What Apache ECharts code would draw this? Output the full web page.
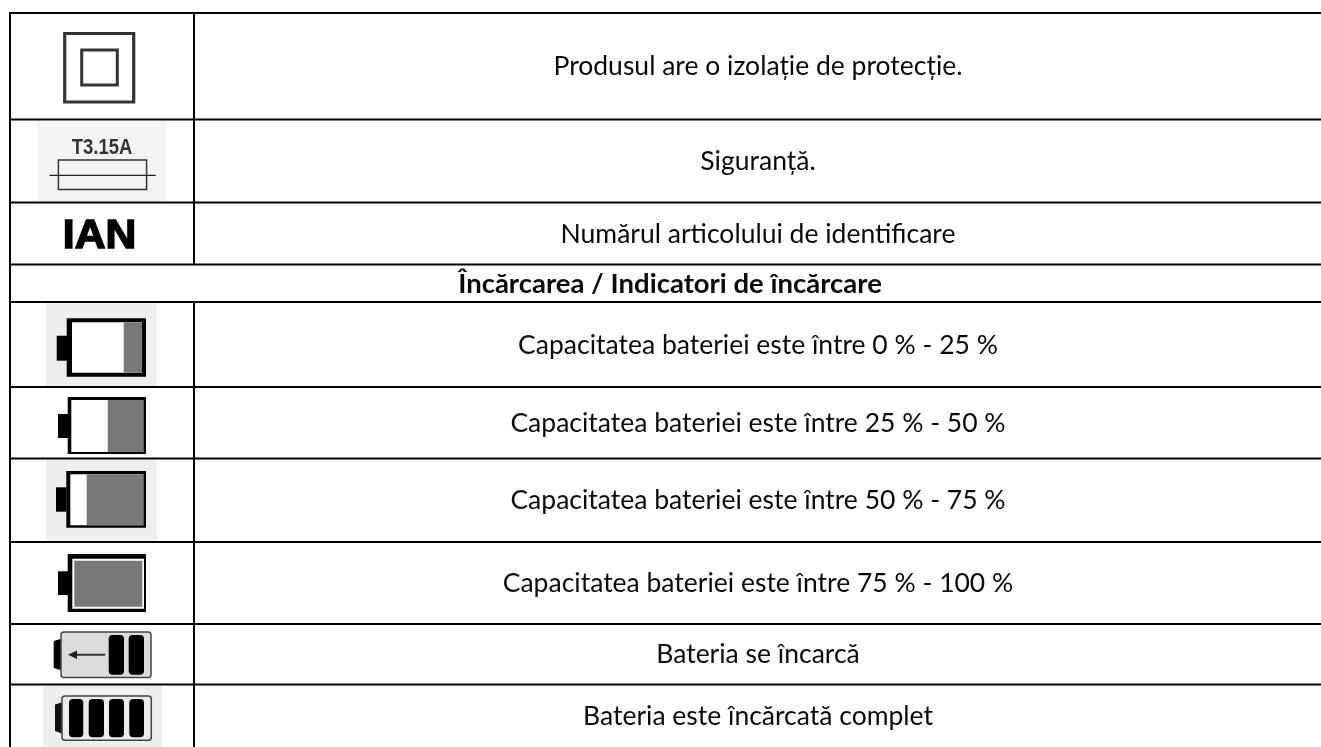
<!DOCTYPE html>
<html><head><meta charset="utf-8">
<style>html,body{margin:0;padding:0;background:#fff}#c{width:1321px;height:747px}</style>
<script src="https://cdn.jsdelivr.net/npm/echarts@6/dist/echarts.min.js"></script>
</head><body><div id="c"></div>
<script>
const rowLabels = [
  "Produsul are o izolație de protecție.",
  "Siguranță.",
  "Numărul articolului de identificare",
  "Încărcarea / Indicatori de încărcare",
  "Capacitatea bateriei este între 0 % - 25 %",
  "Capacitatea bateriei este între 25 % - 50 %",
  "Capacitatea bateriei este între 50 % - 75 %",
  "Capacitatea bateriei este între 75 % - 100 %",
  "Bateria se încarcă",
  "Bateria este încărcată complet"
];
const headingRow = 3;
const rowEdges = [13, 119.5, 202.5, 264.5, 302, 387, 458.5, 542, 624, 684.5, 747];
const fontFamily = 'Lato';
const BLACK = '#000', GRAY = '#787878', LIGHT = '#eeeeee';

const rect = (x0, y0, x1, y1, fill, r) => ({
  type: 'rect', silent: true,
  shape: {x: x0, y: y0, width: x1 - x0, height: y1 - y0, r: r || 0},
  style: {fill}
});
const frame = (x0, y0, x1, y1, stroke, lineWidth, fill, r) => ({
  type: 'rect', silent: true,
  shape: {x: x0, y: y0, width: x1 - x0, height: y1 - y0, r: r || 0},
  style: {fill: fill || 'none', stroke, lineWidth}
});
const seg = (x1, y1, x2, y2, stroke, lineWidth) => ({
  type: 'line', silent: true,
  shape: {x1, y1, x2, y2},
  style: {stroke, lineWidth}
});
const poly = (points, fill) => ({type: 'polygon', silent: true, shape: {points}, style: {fill}});
const txt = (x, y, text, font, fill, extra, scaleX) => ({
  type: 'text', silent: true,
  x, y, scaleX: scaleX || 1,
  style: Object.assign({x: 0, y: 0, text, font, fill, textAlign: 'center', textVerticalAlign: 'middle'}, extra || {})
});

const gridLines = [];
rowEdges.slice(0, -1).forEach((y) => {
  gridLines.push(rect(10, y - 1, 1321, y + 1, BLACK));
});
gridLines.push(rect(9, 12, 11, 747, BLACK));
gridLines.push(rect(193, 13, 195, 264, BLACK));
gridLines.push(rect(193, 302, 195, 747, BLACK));

const icons = [
  // double insulation
  frame(64.7, 33.5, 133.7, 102, '#333', 3.2),
  frame(81.7, 50, 117.3, 85, '#333', 3),
  // fuse
  rect(38, 121, 166, 201, '#f3f3f3'),
  txt(102, 147.5, 'T3.15A', 'bold 22px "Liberation Sans"', '#333', null, 0.84),
  frame(58.4, 160, 146.6, 189.5, '#333', 1.5),
  seg(49.5, 175.3, 155.7, 175.3, '#222', 1.2),
  // IAN
  txt(99.5, 236.5, 'IAN', 'bold 41px "Liberation Sans"', BLACK, {stroke: BLACK, lineWidth: 1.5}, 1.04),
  // battery 0-25
  rect(46, 303, 156.7, 385.7, LIGHT),
  rect(66.7, 318.3, 146, 376.7, BLACK),
  rect(56.7, 335.7, 67, 360.7, BLACK),
  rect(72, 322.3, 142, 372.7, '#fff'),
  rect(123.7, 322.3, 142, 372.7, GRAY),
  // battery 25-50
  rect(67.7, 397, 146, 454, BLACK),
  rect(58, 414, 68, 438, BLACK),
  rect(71.3, 400, 143.3, 452, '#fff'),
  rect(107.7, 400, 143.3, 452, GRAY),
  // battery 50-75
  rect(46, 460, 156.7, 540.7, LIGHT),
  rect(66.3, 471, 146, 527.7, BLACK),
  rect(56, 487.3, 66.5, 511.7, BLACK),
  rect(70.3, 474.3, 143.3, 525.3, '#fff'),
  rect(86.7, 474.3, 143.3, 525.3, GRAY),
  // battery 75-100
  rect(67.7, 554, 146, 612, BLACK),
  rect(58, 571.3, 68, 595, BLACK),
  rect(72.3, 558.7, 144, 608.7, '#fff'),
  rect(74.3, 560.7, 142.3, 606.7, GRAY),
  // charging
  frame(61, 632, 151, 677.5, '#444', 1.5, '#dcdcdc', 3),
  poly([[60.5, 639], [53.7, 641], [53.7, 668], [60.5, 670]], BLACK),
  seg(71, 654.7, 105.3, 654.7, '#333', 2),
  poly([[68, 654.7], [77, 650.5], [77, 659]], '#222'),
  rect(108.7, 635, 124, 674.7, BLACK, 4),
  rect(128.7, 635, 144, 674.7, BLACK, 4),
  // charged
  rect(43, 686, 162, 747, LIGHT),
  frame(62, 696, 151.3, 740.3, '#444', 1.5, '#ececec', 3),
  poly([[61.5, 702.5], [55, 704.5], [55, 731], [61.5, 733.5]], '#111'),
  rect(69, 699, 83.3, 737.3, BLACK, 4),
  rect(88.7, 699, 104, 737.3, BLACK, 4),
  rect(109, 699, 124, 737.3, BLACK, 4),
  rect(129.3, 699, 144, 737.3, BLACK, 4)
];

const chart = echarts.init(document.getElementById('c'), null, {renderer: 'canvas'});
chart.setOption({
  animation: false,
  backgroundColor: '#fff',
  tooltip: {show: false},
  graphic: {elements: [{type: 'group', silent: true, z: 1, children: gridLines.concat(icons)}]},
  series: [{
    type: 'custom',
    coordinateSystem: 'none',
    silent: true,
    z: 5,
    data: rowLabels.map((_, i) => [i]),
    renderItem: (params) => {
      const i = params.dataIndex;
      const y = (rowEdges[i] + rowEdges[i + 1]) / 2 + 0.5;
      const isHead = i === headingRow;
      return txt(isHead ? 670 : 758, y, rowLabels[i],
        (isHead ? 'bold 27.5px ' : '26.5px ') + fontFamily, '#0a0a0a');
    }
  }]
});
</script></body></html>
